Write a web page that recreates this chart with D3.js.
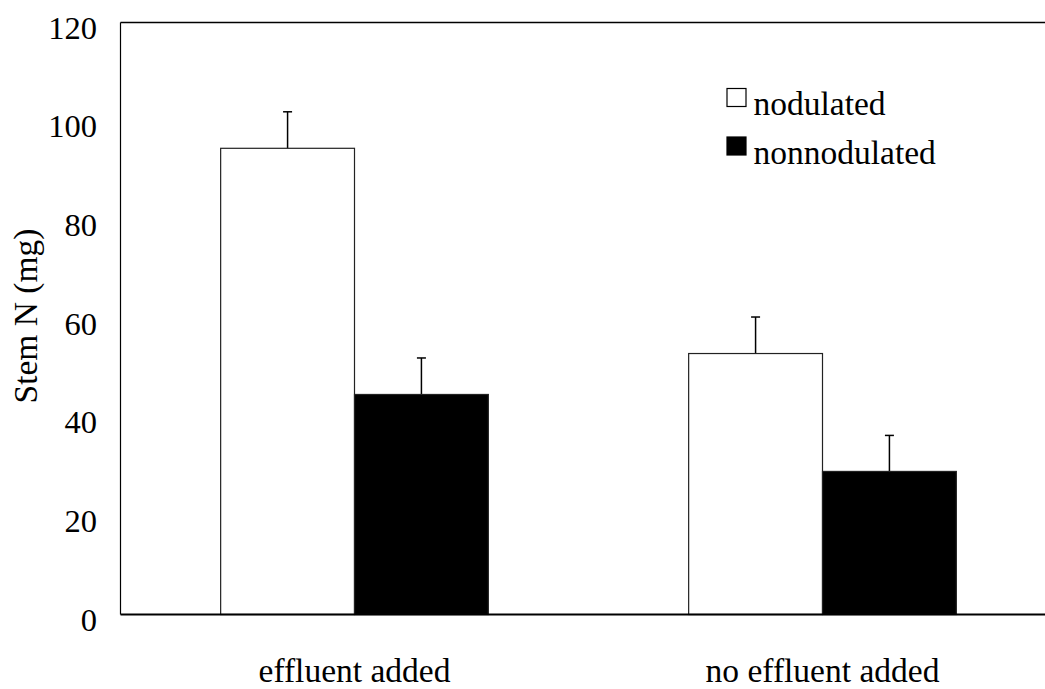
<!DOCTYPE html>
<html>
<head>
<meta charset="utf-8">
<script src="https://cdn.jsdelivr.net/npm/d3@7"></script>
<style>
  html, body { margin: 0; padding: 0; background: #fff; }
  svg { display: block; }
</style>
</head>
<body>
<svg id="chart" width="1045" height="689"></svg>
<script>
// Chart data.
var groups = ["effluent added", "no effluent added"];
var seriesNames = ["nodulated", "nonnodulated"];
var seriesFill = ["#fff", "#000"];
var nodulated = [94.5, 52.9];
var nonnodulated = [44.6, 29.0];
var nodulatedErr = [7.4, 7.4];
var nonnodulatedErr = [7.4, 7.3];
var yTicks = [0, 20, 40, 60, 80, 100, 120];

var values = [nodulated, nonnodulated];
var errors = [nodulatedErr, nonnodulatedErr];

var FONT = "'Liberation Serif', 'Times New Roman', Times, serif";

var svg = d3.select("#chart").style("font-family", FONT);

// Plot frame runs past the right edge of the picture, as in the original.
// (named plot* because a global "top" clashes with window.top)
var plotLeft = 120.5, plotRight = 1056.5, plotTop = 22.5, plotBottom = 614.5;

var y = d3.scaleLinear().domain([0, 120]).range([plotBottom, plotTop]);

var x = d3.scaleBand()
          .domain(groups)
          .range([plotLeft, plotRight])
          .paddingInner(0.428)
          .paddingOuter(0.214);

var xs = d3.scaleBand().domain(seriesNames).range([0, x.bandwidth()]);

// Build flat list of bars from the arrays.
var bars = [];
groups.forEach(function(g, i) {
  seriesNames.forEach(function(s, j) {
    bars.push({ group: g, series: s, fill: seriesFill[j], value: values[j][i], err: errors[j][i] });
  });
});

// Frame: top, left and bottom lines only (right side is cut off).
svg.append("line").attr("x1", plotLeft).attr("x2", plotRight).attr("y1", plotTop).attr("y2", plotTop)
   .attr("stroke", "#000").attr("stroke-width", 1.5);
svg.append("line").attr("x1", plotLeft).attr("x2", plotLeft).attr("y1", plotTop).attr("y2", plotBottom)
   .attr("stroke", "#000").attr("stroke-width", 1.2);

// Error bars (upper only).
var eb = svg.append("g").attr("class", "errors");
bars.forEach(function(d) {
  var cx = x(d.group) + xs(d.series) + xs.bandwidth() / 2;
  eb.append("line").attr("x1", cx).attr("x2", cx)
    .attr("y1", y(d.value)).attr("y2", y(d.value + d.err))
    .attr("stroke", "#000").attr("stroke-width", 1.5);
  eb.append("line").attr("x1", cx - 4.5).attr("x2", cx + 4.5)
    .attr("y1", y(d.value + d.err)).attr("y2", y(d.value + d.err))
    .attr("stroke", "#000").attr("stroke-width", 1.5);
});

// Bars.
svg.append("g").attr("class", "bars")
  .selectAll("rect")
  .data(bars)
  .enter().append("rect")
    .attr("x", function(d) { return x(d.group) + xs(d.series); })
    .attr("y", function(d) { return y(d.value); })
    .attr("width", xs.bandwidth())
    .attr("height", function(d) { return y(0) - y(d.value); })
    .attr("fill", function(d) { return d.fill; })
    .attr("stroke", "#222")
    .attr("stroke-width", 1.2);

// Bottom axis line drawn on top of bars.
svg.append("line").attr("x1", plotLeft).attr("x2", plotRight).attr("y1", plotBottom).attr("y2", plotBottom)
   .attr("stroke", "#000").attr("stroke-width", 2);

// Y tick labels (no tick marks in the original).
svg.append("g").attr("class", "ylabels")
  .selectAll("text")
  .data(yTicks)
  .enter().append("text")
    .attr("x", 97)
    .attr("y", function(d) { return y(d) + 16; })
    .attr("text-anchor", "end")
    .attr("font-size", 32.5)
    .text(function(d) { return d; });

// Category labels.
svg.append("g").attr("class", "xlabels")
  .selectAll("text")
  .data(groups)
  .enter().append("text")
    .attr("x", function(d) { return x(d) + x.bandwidth() / 2; })
    .attr("y", 681.5)
    .attr("text-anchor", "middle")
    .attr("font-size", 33.5)
    .text(function(d) { return d; });

// Y axis title.
svg.append("text")
   .attr("transform", "translate(36.5,316) rotate(-90)")
   .attr("text-anchor", "middle")
   .attr("font-size", 33.5)
   .text("Stem N (mg)");

// Legend.
var legend = svg.append("g").attr("class", "legend");
seriesNames.forEach(function(s, j) {
  var ly = 88.5 + j * 48.5;
  legend.append("rect").attr("x", 727).attr("y", ly).attr("width", 19).attr("height", 18)
        .attr("fill", seriesFill[j]).attr("stroke", "#000").attr("stroke-width", 1.2);
  legend.append("text").attr("x", 753.5).attr("y", ly + 26.5)
        .attr("font-size", 33.5).text(s);
});
</script>
</body>
</html>
